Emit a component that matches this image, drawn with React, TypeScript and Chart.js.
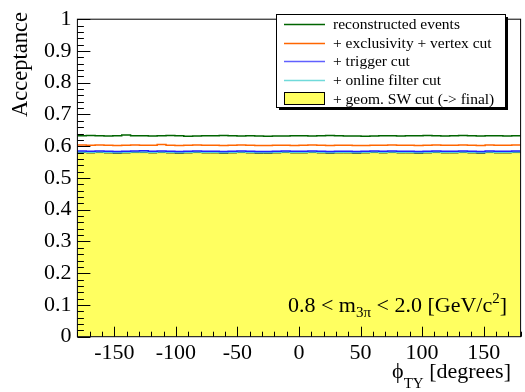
import React, { useEffect, useRef } from "react";
import { Chart, registerables } from "chart.js";

Chart.register(...registerables);

const X_MIN = -180;
const X_MAX = 180;
const N_BINS = 50;

const xTicks = [-150, -100, -50, 0, 50, 100, 150];
const yTicks = [0, 0.1, 0.2, 0.3, 0.4, 0.5, 0.6, 0.7, 0.8, 0.9, 1];

const seriesNames = [
  "reconstructed events",
  "+ exclusivity + vertex cut",
  "+ trigger cut",
  "+ online filter cut",
  "+ geom. SW cut (-> final)",
];

const reconstructed = [
  0.633, 0.634, 0.633, 0.632, 0.633, 0.635, 0.633, 0.633, 0.632, 0.633,
  0.634, 0.633, 0.631, 0.632, 0.633, 0.633, 0.634, 0.633, 0.632, 0.633,
  0.632, 0.631, 0.632, 0.632, 0.633, 0.633, 0.632, 0.633, 0.634, 0.633,
  0.632, 0.632, 0.631, 0.632, 0.633, 0.633, 0.632, 0.633, 0.633, 0.634,
  0.633, 0.632, 0.633, 0.634, 0.633, 0.632, 0.633, 0.633, 0.632, 0.633,
];
const exclusivity = [
  0.604, 0.603, 0.604, 0.603, 0.602, 0.603, 0.604, 0.603, 0.603, 0.605,
  0.603, 0.602, 0.603, 0.604, 0.603, 0.603, 0.602, 0.603, 0.604, 0.603,
  0.602, 0.602, 0.603, 0.603, 0.602, 0.603, 0.604, 0.603, 0.602, 0.603,
  0.603, 0.602, 0.602, 0.603, 0.603, 0.604, 0.603, 0.603, 0.602, 0.603,
  0.604, 0.603, 0.603, 0.604, 0.603, 0.602, 0.604, 0.603, 0.603, 0.604,
];
const trigger = [
  0.585, 0.584, 0.585, 0.584, 0.583, 0.584, 0.585, 0.586, 0.584, 0.585,
  0.584, 0.583, 0.584, 0.585, 0.584, 0.584, 0.583, 0.584, 0.585, 0.584,
  0.583, 0.583, 0.584, 0.585, 0.584, 0.584, 0.585, 0.584, 0.583, 0.584,
  0.584, 0.583, 0.584, 0.585, 0.584, 0.585, 0.584, 0.584, 0.583, 0.584,
  0.585, 0.584, 0.584, 0.585, 0.584, 0.583, 0.585, 0.584, 0.584, 0.585,
];
const onlineFilter = [
  0.582, 0.581, 0.582, 0.581, 0.580, 0.581, 0.582, 0.582, 0.581, 0.582,
  0.581, 0.580, 0.581, 0.582, 0.581, 0.581, 0.580, 0.581, 0.582, 0.581,
  0.580, 0.580, 0.581, 0.582, 0.581, 0.581, 0.582, 0.581, 0.580, 0.581,
  0.581, 0.580, 0.581, 0.582, 0.581, 0.582, 0.581, 0.581, 0.580, 0.581,
  0.582, 0.581, 0.581, 0.582, 0.581, 0.580, 0.582, 0.581, 0.581, 0.582,
];
const geomSW = [
  0.580, 0.579, 0.580, 0.579, 0.578, 0.579, 0.580, 0.580, 0.579, 0.580,
  0.579, 0.578, 0.579, 0.580, 0.579, 0.579, 0.578, 0.579, 0.580, 0.579,
  0.578, 0.578, 0.579, 0.580, 0.579, 0.579, 0.580, 0.579, 0.578, 0.579,
  0.579, 0.578, 0.579, 0.580, 0.579, 0.580, 0.579, 0.579, 0.578, 0.579,
  0.580, 0.579, 0.579, 0.580, 0.579, 0.578, 0.580, 0.579, 0.579, 0.580,
];

const colors = ["#006400", "#ff6600", "#2020ff", "#55d5d5", "#000000"];
const legendColors = ["#006400", "#ff6600", "#6060ff", "#70dada", "#000000"];
const yellow = "#ffff60";

const SERIF = '"Liberation Serif", "DejaVu Serif", serif';

function histPoints(values: number[]) {
  const w = (X_MAX - X_MIN) / N_BINS;
  const pts = values.map((v, i) => ({ x: X_MIN + i * w, y: v }));
  pts.push({ x: X_MAX, y: values[values.length - 1] });
  return pts;
}

const rootPlugin = {
  id: "rootStyle",
  afterDraw(chart: any) {
    const ctx = chart.ctx as CanvasRenderingContext2D;
    const { left, right, top, bottom } = chart.chartArea;
    const xs = chart.scales.x;
    const ys = chart.scales.y;
    ctx.save();
    ctx.strokeStyle = "#000";
    ctx.lineWidth = 1;
    ctx.strokeRect(left, top, right - left, bottom - top);
    ctx.beginPath();
    for (let i = 0; i <= 50; i++) {
      const v = i / 50;
      const py = Math.round(ys.getPixelForValue(v)) + 0.5;
      const len = i % 5 === 0 ? 13 : 6.5;
      ctx.moveTo(left, py);
      ctx.lineTo(left + len, py);
    }
    for (let d = -180; d <= 180; d += 10) {
      const px = Math.round(xs.getPixelForValue(d)) + 0.5;
      const len = d % 50 === 0 ? 10 : 5;
      ctx.moveTo(px, bottom);
      ctx.lineTo(px, bottom - len);
    }
    ctx.stroke();

    ctx.fillStyle = "#000";
    ctx.save();
    ctx.translate(27, 12);
    ctx.rotate(-Math.PI / 2);
    ctx.font = `22.5px ${SERIF}`;
    ctx.textAlign = "right";
    ctx.textBaseline = "alphabetic";
    ctx.fillText("Acceptance", 0, 0);
    ctx.restore();

    const drawRuns = (
      runs: { t: string; size: number; dy: number }[],
      rightX: number,
      baseY: number
    ) => {
      let total = 0;
      runs.forEach((r) => {
        ctx.font = `${r.size}px ${SERIF}`;
        total += ctx.measureText(r.t).width;
      });
      let x = rightX - total;
      ctx.textAlign = "left";
      ctx.textBaseline = "alphabetic";
      runs.forEach((r) => {
        ctx.font = `${r.size}px ${SERIF}`;
        ctx.fillText(r.t, x, baseY + r.dy);
        x += ctx.measureText(r.t).width;
      });
    };
    drawRuns(
      [
        { t: "\u03d5", size: 22, dy: 0 },
        { t: "TY", size: 15, dy: 10 },
        { t: " [degrees]", size: 22, dy: 0 },
      ],
      511,
      378
    );

    drawRuns(
      [
        { t: "0.8 < m", size: 22, dy: 0 },
        { t: "3\u03c0", size: 15, dy: 5 },
        { t: " < 2.0 [GeV/c", size: 22, dy: 0 },
        { t: "2", size: 15, dy: -9 },
        { t: "]", size: 22, dy: 0 },
      ],
      507,
      312
    );

    const lx0 = 276, ly0 = 14, lx1 = 505, ly1 = 107;
    ctx.fillStyle = "#000";
    ctx.fillRect(lx0 + 3, ly0 + 3, lx1 - lx0, ly1 - ly0);
    ctx.fillStyle = "#fff";
    ctx.fillRect(lx0, ly0, lx1 - lx0, ly1 - ly0);
    ctx.strokeStyle = "#000";
    ctx.lineWidth = 1;
    ctx.strokeRect(lx0 + 0.5, ly0 + 0.5, lx1 - lx0, ly1 - ly0);
    const rows = [24, 42.5, 61, 80, 99];
    ctx.font = `15.5px ${SERIF}`;
    ctx.textAlign = "left";
    ctx.textBaseline = "middle";
    seriesNames.forEach((name, i) => {
      const cy = rows[i];
      if (i < 4) {
        ctx.strokeStyle = legendColors[i];
        ctx.lineWidth = 1.3;
        ctx.beginPath();
        ctx.moveTo(284, Math.round(cy) + 0.5);
        ctx.lineTo(325, Math.round(cy) + 0.5);
        ctx.stroke();
      } else {
        ctx.fillStyle = yellow;
        ctx.fillRect(284, 92, 41, 13);
        ctx.strokeStyle = "#000";
        ctx.lineWidth = 1;
        ctx.strokeRect(284.5, 92.5, 40, 12);
      }
      ctx.fillStyle = "#000";
      ctx.fillText(name, 333, cy + 1);
    });
    ctx.restore();
  },
};

export default function App() {
  const ref = useRef<HTMLCanvasElement>(null);
  useEffect(() => {
    if (!ref.current) return;
    const lineDs = (label: string, data: number[], color: string) => ({
      label,
      data: histPoints(data),
      borderColor: color,
      borderWidth: 1.5,
      pointRadius: 0,
      stepped: true,
      fill: false,
    });
    const chart = new Chart(ref.current, {
      type: "line",
      data: {
        datasets: [
          lineDs(seriesNames[0], reconstructed, colors[0]),
          lineDs(seriesNames[1], exclusivity, colors[1]),
          lineDs(seriesNames[2], trigger, colors[2]),
          lineDs(seriesNames[3], onlineFilter, colors[3]),
          {
            label: seriesNames[4],
            data: histPoints(geomSW),
            borderColor: colors[4],
            backgroundColor: yellow,
            borderWidth: 1,
            pointRadius: 0,
            stepped: true,
            fill: "origin",
          },
        ],
      },
      options: {
        responsive: false,
        animation: false,
        devicePixelRatio: 1,
        layout: { padding: { left: 0, top: 14, right: 4.4, bottom: 0 } },
        plugins: {
          legend: { display: false },
          tooltip: { enabled: false },
        },
        scales: {
          x: {
            type: "linear",
            min: X_MIN,
            max: X_MAX,
            grid: { display: false, drawTicks: false },
            border: { display: false },
            afterBuildTicks: (s: any) => {
              s.ticks = xTicks.map((v) => ({ value: v }));
            },
            afterFit: (s: any) => {
              s.height = 55.3;
            },
            ticks: {
              padding: 3,
              maxRotation: 0,
              autoSkip: false,
              color: "#000",
              font: { family: SERIF, size: 22 },
              callback: (v: any) => String(v),
            },
          },
          y: {
            type: "linear",
            min: 0,
            max: 1,
            grid: { display: false, drawTicks: false },
            border: { display: false },
            afterBuildTicks: (s: any) => {
              s.ticks = yTicks.map((v) => ({ value: v }));
            },
            afterFit: (s: any) => {
              s.width = 77.4;
            },
            ticks: {
              padding: 6,
              autoSkip: false,
              color: "#000",
              font: { family: SERIF, size: 22 },
              callback: (v: any) => {
                const n = Number(v);
                if (Math.abs(n) < 1e-9) return "0";
                if (Math.abs(n - 1) < 1e-9) return "1";
                return n.toFixed(1);
              },
            },
          },
        },
      } as any,
      plugins: [rootPlugin],
    });
    return () => chart.destroy();
  }, []);
  return (
    <div style={{ position: "absolute", left: 0, top: 0, width: 525, height: 392, background: "#fff" }}>
      <canvas ref={ref} width={525} height={392} />
    </div>
  );
}
